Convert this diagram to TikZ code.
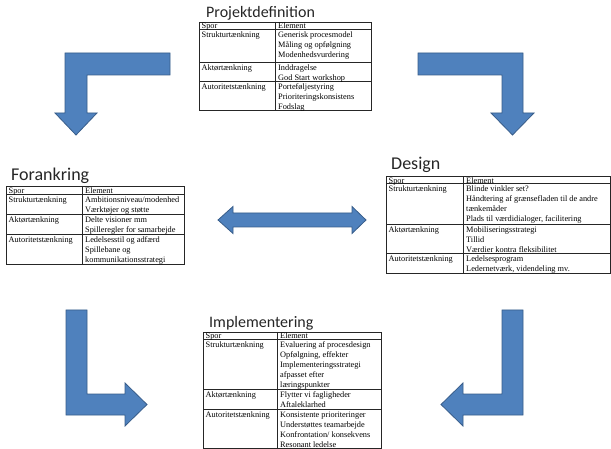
\documentclass[tikz,border=0pt]{standalone}
\usepackage{fontspec}
\setmainfont{Liberation Serif}
\newfontfamily\titelfont{Carlito}
\definecolor{pilblaa}{HTML}{4F81BD}
\definecolor{pilkant}{HTML}{385D8A}
\tikzset{
  pil/.style={fill=pilblaa, draw=pilkant, line width=0.8pt, line join=miter},
  titel/.style={anchor=base west, inner sep=0pt, font=\titelfont\fontsize{16}{18}\selectfont, text=black!85},
  celle/.style={anchor=north west, inner sep=0pt, align=left, font=\fontsize{8.3}{10}\selectfont},
  gitter/.style={draw=black!85, line width=0.6pt}
}

\begin{document}
\begin{tikzpicture}[x=1pt, y=-1pt]

    \useasboundingbox[fill=white] (0, 0) rectangle (611, 449);

    % blokpile
    \draw[pil] (170, 53) -- (65, 53) -- (65, 113) -- (55, 113) -- (76, 135) -- (97, 113) -- (87, 113) -- (87, 75) -- (170, 75) -- cycle;
    \draw[pil] (418, 53) -- (523, 53) -- (523, 113) -- (534, 113) -- (512.5, 135) -- (491, 113) -- (502, 113) -- (502, 75) -- (418, 75) -- cycle;
    \draw[pil] (218, 220) -- (233, 206.5) -- (233, 213) -- (352, 213) -- (352, 206.5) -- (366, 220) -- (352, 233.5) -- (352, 227) -- (233, 227) -- (233, 233.5) -- cycle;
    \draw[pil] (66, 310) -- (87, 310) -- (87, 394) -- (125, 394) -- (125, 383) -- (147, 404.5) -- (125, 426) -- (125, 415) -- (66, 415) -- cycle;
    \draw[pil] (523, 310) -- (502, 310) -- (502, 394) -- (463, 394) -- (463, 383) -- (441, 404.5) -- (463, 426) -- (463, 415) -- (523, 415) -- cycle;

    % Projektdefinition
    \node[titel] (pd) at (206, 18) {Projektdefinition};
    \draw[gitter] (199, 22) rectangle (371, 110);
    \draw[gitter] (275, 22) -- (275, 110);
    \draw[gitter] (199, 29.5) -- (371, 29.5);
    \draw[gitter] (199, 62) -- (371, 62);
    \draw[gitter] (199, 81) -- (371, 81);
    \node[celle] (pd-s0) at (201.5, 21.5) {\strut Spor};
    \node[celle] (pd-e0) at (278, 21.5) {\strut Element};
    \node[celle] (pd-s1) at (201.5, 30.5) {\strut Strukturtænkning};
    \node[celle] (pd-e1) at (278, 30.5) {\strut Generisk procesmodel\\Måling og opfølgning\\Modenhedsvurdering};
    \node[celle] (pd-s2) at (201.5, 63) {\strut Aktørtænkning};
    \node[celle] (pd-e2) at (278, 63) {\strut Inddragelse\\God Start workshop};
    \node[celle] (pd-s3) at (201.5, 82) {\strut Autoritetstænkning};
    \node[celle] (pd-e3) at (278, 82) {\strut Porteføljestyring\\Prioriteringskonsistens\\Fodslag};

    % Forankring
    \node[titel, font=\titelfont\fontsize{18}{20}\selectfont] (fa) at (11, 180.5) {Forankring};
    \draw[gitter] (6, 186) rectangle (184, 264);
    \draw[gitter] (82, 186) -- (82, 264);
    \draw[gitter] (6, 194) -- (184, 194);
    \draw[gitter] (6, 214) -- (184, 214);
    \draw[gitter] (6, 234) -- (184, 234);
    \node[celle] (fa-s0) at (8.5, 186) {\strut Spor};
    \node[celle] (fa-e0) at (85, 186) {\strut Element};
    \node[celle] (fa-s1) at (8.5, 195) {\strut Strukturtænkning};
    \node[celle] (fa-e1) at (85, 195) {\strut Ambitionsniveau/modenhed\\Værktøjer og støtte};
    \node[celle] (fa-s2) at (8.5, 215) {\strut Aktørtænkning};
    \node[celle] (fa-e2) at (85, 215) {\strut Delte visioner mm\\Spilleregler for samarbejde};
    \node[celle] (fa-s3) at (8.5, 235) {\strut Autoritetstænkning};
    \node[celle] (fa-e3) at (85, 235) {\strut Ledelsesstil og adfærd\\Spillebane og\\kommunikationsstrategi};

    % Design
    \node[titel, font=\titelfont\fontsize{18}{20}\selectfont] (de) at (391, 170) {Design};
    \draw[gitter] (386, 176.5) rectangle (610, 273);
    \draw[gitter] (463, 176.5) -- (463, 273);
    \draw[gitter] (386, 183) -- (610, 183);
    \draw[gitter] (386, 224) -- (610, 224);
    \draw[gitter] (386, 253) -- (610, 253);
    \node[celle] (de-s0) at (388.5, 176) {\strut Spor};
    \node[celle] (de-e0) at (466, 176) {\strut Element};
    \node[celle] (de-s1) at (388.5, 184) {\strut Strukturtænkning};
    \node[celle] (de-e1) at (466, 184) {\strut Blinde vinkler set?\\Håndtering af grænsefladen til de andre\\tænkemåder\\Plads til værdidialoger, facilitering};
    \node[celle] (de-s2) at (388.5, 225) {\strut Aktørtænkning};
    \node[celle] (de-e2) at (466, 225) {\strut Mobiliseringsstrategi\\Tillid\\Værdier kontra fleksibilitet};
    \node[celle] (de-s3) at (388.5, 254) {\strut Autoritetstænkning};
    \node[celle] (de-e3) at (466, 254) {\strut Ledelsesprogram\\Ledernetværk, videndeling mv.};

    % Implementering
    \node[titel] (im) at (209, 328) {Implementering};
    \draw[gitter] (203, 332) rectangle (381, 448.5);
    \draw[gitter] (277, 332) -- (277, 448.5);
    \draw[gitter] (203, 339) -- (381, 339);
    \draw[gitter] (203, 389) -- (381, 389);
    \draw[gitter] (203, 409) -- (381, 409);
    \node[celle] (im-s0) at (205.5, 331.5) {\strut Spor};
    \node[celle] (im-e0) at (280, 331.5) {\strut Element};
    \node[celle] (im-s1) at (205.5, 340) {\strut Strukturtænkning};
    \node[celle] (im-e1) at (280, 340) {\strut Evaluering af procesdesign\\Opfølgning, effekter\\Implementeringsstrategi\\afpasset efter\\læringspunkter};
    \node[celle] (im-s2) at (205.5, 390) {\strut Aktørtænkning};
    \node[celle] (im-e2) at (280, 390) {\strut Flytter vi fagligheder\\Aftaleklarhed};
    \node[celle] (im-s3) at (205.5, 410) {\strut Autoritetstænkning};
    \node[celle] (im-e3) at (280, 410) {\strut Konsistente prioriteringer\\Understøttes teamarbejde\\Konfrontation/ konsekvens\\Resonant ledelse};

\end{tikzpicture}
\end{document}
